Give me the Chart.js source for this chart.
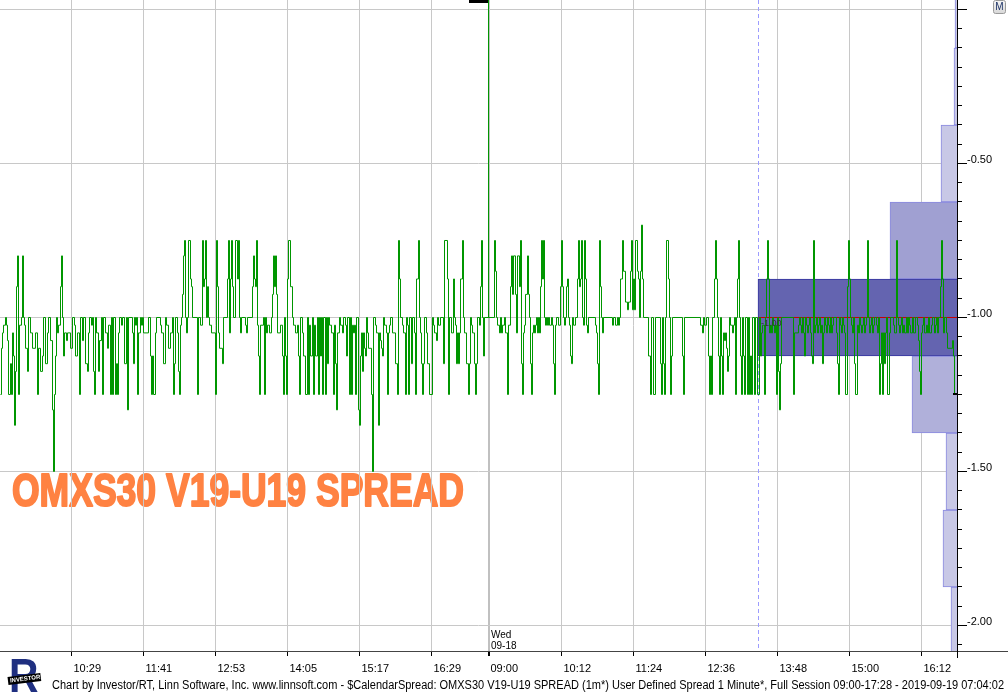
<!DOCTYPE html>
<html>
<head>
<meta charset="utf-8">
<title>OMXS30 V19-U19 SPREAD</title>
<script src="https://cdn.jsdelivr.net/npm/chart.js@4.4.1/dist/chart.umd.min.js"></script>
<style>
  html, body { margin: 0; padding: 0; background: #fff; }
  #spreadChart { display: block; }
</style>
</head>
<body>
<canvas id="spreadChart" width="1008" height="693"></canvas>
<script>
// Spread 1 minuto: cada ponto = [barra, fechamento] onde o valor muda (linha em degrau).
const session1Steps = [
  [0,-1.25],[1,-1.10],[2,-1.05],[3,-1.025],[5,-1.0],[6,-1.025],[7,-1.075],[8,-1.25],[10,-1.15],[11,-1.25],
  [12,-1.05],[13,-1.125],[14,-1.35],[15,-1.175],[16,-0.90],[17,-0.80],[18,-1.25],[19,-1.025],[21,-1.0],[22,-0.80],
  [23,-1.0],[24,-1.025],[25,-1.10],[27,-1.175],[28,-1.0],[30,-1.05],[32,-1.10],[35,-1.05],[37,-1.25],[38,-1.10],
  [40,-1.175],[42,-1.125],[43,-1.0],[45,-1.15],[47,-1.05],[48,-1.0],[50,-1.075],[52,-1.30],[53,-1.50],[54,-1.25],
  [55,-1.125],[56,-1.0],[57,-1.05],[58,-1.025],[60,-0.90],[61,-0.80],[62,-1.0],[63,-1.125],[64,-1.05],[66,-1.075],
  [67,-1.05],[70,-1.10],[72,-1.0],[74,-1.025],[75,-1.125],[77,-1.05],[79,-1.25],[80,-1.0],[82,-1.075],[83,-1.0],
  [85,-1.15],[87,-1.175],[88,-1.05],[89,-1.0],[91,-1.025],[92,-1.0],[93,-1.175],[94,-1.25],[95,-1.0],[96,-1.05],
  [98,-1.175],[99,-1.075],[101,-1.0],[102,-1.25],[103,-1.0],[105,-1.05],[107,-1.10],[108,-1.025],[110,-1.25],[111,-1.0],
  [112,-1.25],[113,-1.0],[115,-1.25],[116,-1.15],[117,-1.25],[118,-1.05],[119,-1.0],[121,-1.025],[122,-1.0],[124,-1.15],
  [126,-1.0],[127,-1.30],[128,-1.0],[132,-1.05],[133,-1.15],[134,-1.0],[135,-1.025],[136,-1.0],[137,-1.25],[138,-1.05],
  [140,-1.0],[141,-1.025],[142,-1.0],[143,-1.05],[148,-1.0],[150,-1.125],[151,-1.25],[152,-1.125],[153,-1.25],[155,-1.05],
  [156,-1.0],[160,-1.025],[161,-1.05],[163,-1.15],[165,-1.0],[166,-1.025],[168,-1.10],[170,-1.05],[172,-1.0],[173,-1.25],
  [174,-1.15],[175,-1.0],[177,-1.05],[178,-1.175],[179,-1.25],[180,-1.025],[181,-1.0],[182,-0.925],[183,-0.80],[184,-0.75],
  [185,-1.0],[186,-1.05],[187,-1.0],[188,-0.75],[190,-0.875],[191,-0.90],[192,-1.0],[197,-1.25],[198,-1.0],[200,-1.025],
  [202,-0.75],[203,-0.90],[204,-0.875],[205,-0.75],[206,-1.0],[207,-0.90],[208,-1.0],[209,-1.025],[211,-1.05],[215,-1.25],
  [216,-0.75],[217,-0.90],[218,-1.05],[219,-1.10],[222,-1.15],[223,-1.0],[227,-0.875],[228,-0.75],[229,-1.05],[230,-0.875],
  [231,-0.75],[232,-0.90],[233,-1.0],[235,-0.75],[237,-0.875],[238,-0.75],[239,-1.0],[240,-1.05],[241,-1.0],[245,-1.025],
  [246,-1.05],[247,-1.0],[252,-0.90],[253,-0.80],[254,-0.875],[255,-0.90],[256,-0.75],[257,-1.025],[258,-1.125],[259,-1.25],
  [260,-1.025],[263,-1.0],[264,-1.25],[265,-1.0],[266,-1.05],[267,-1.025],[269,-1.05],[271,-1.0],[272,-0.925],[273,-0.80],
  [274,-0.90],[275,-0.80],[276,-0.925],[277,-1.05],[280,-1.025],[282,-1.125],[283,-1.25],[284,-1.0],[285,-1.125],[286,-1.25],
  [287,-0.875],[288,-0.75],[290,-0.90],[292,-1.0],[293,-1.025],[295,-1.05],[297,-1.025],[298,-1.125],[299,-1.25],[300,-1.0],
  [302,-1.05],[303,-1.125],[305,-1.25],[307,-1.0],[308,-1.25],[309,-1.025],[310,-1.125],[312,-1.0],[313,-1.25],[314,-1.025],
  [315,-1.125],[317,-1.0],[318,-1.25],[319,-1.0],[320,-1.125],[321,-1.0],[322,-1.25],[323,-1.0],[325,-1.25],[326,-1.0],
  [327,-1.15],[328,-1.0],[329,-1.025],[331,-1.05],[333,-1.25],[334,-1.025],[335,-1.15],[336,-1.30],[337,-1.05],[339,-1.0],
  [340,-1.025],[342,-1.05],[343,-1.0],[345,-1.025],[346,-1.125],[347,-1.0],[349,-1.25],[350,-1.0],[351,-1.25],[352,-1.025],
  [353,-1.05],[354,-1.025],[355,-1.25],[356,-1.0],[358,-1.30],[359,-1.35],[360,-1.125],[361,-1.05],[362,-1.175],[363,-1.05],
  [364,-1.10],[365,-1.125],[366,-1.0],[367,-1.05],[368,-1.10],[371,-1.25],[372,-1.50],[373,-1.0],[375,-1.025],[376,-1.05],
  [378,-1.35],[379,-1.05],[380,-1.075],[381,-1.10],[382,-1.125],[383,-1.0],[384,-1.025],[386,-1.05],[387,-1.25],[388,-1.05],
  [389,-1.025],[390,-1.0],[392,-1.05],[395,-1.15],[397,-1.25],[398,-0.75],[399,-0.875],[400,-1.0],[402,-1.025],[403,-1.05],
  [405,-1.25],[406,-1.0],[407,-1.025],[408,-1.25],[409,-1.0],[411,-1.15],[412,-1.0],[414,-1.05],[415,-1.25],[416,-0.875],
  [418,-0.75],[419,-1.0],[420,-1.05],[421,-1.15],[422,-1.25],[423,-1.15],[424,-1.0],[426,-1.05],[427,-1.15],[429,-1.25],
  [432,-1.0],[433,-1.025],[434,-1.05],[436,-1.075],[437,-1.0],[438,-1.025],[440,-1.0],[443,-1.15],[444,-0.75],[447,-0.875],
  [448,-1.25],[449,-1.0],[451,-1.05],[453,-0.875],[454,-1.0],[455,-1.025],[456,-1.15],[457,-1.05],[458,-1.15],[459,-1.05],
  [460,-0.875],[462,-0.75],[463,-1.0],[464,-1.05],[466,-1.15],[468,-1.25],[469,-1.15],[470,-1.0],[471,-1.025],[472,-1.05],
  [474,-1.15],[475,-1.25],[476,-1.15],[477,-1.0],[479,-1.025],[480,-0.90],[481,-0.75],[482,-1.0],[483,-1.125],[484,-1.0]
];

const session2Steps = [
  [488,0.10],[488,-1.0],[494,-0.75],[495,-0.85],[496,-1.0],[497,-1.025],[499,-1.05],[500,-1.0],[501,-1.05],[502,-1.025],
  [504,-1.0],[505,-1.05],[507,-1.25],[508,-1.025],[510,-0.90],[511,-0.80],[512,-0.925],[513,-0.80],[515,-0.925],[516,-1.05],
  [517,-0.80],[519,-0.90],[520,-0.75],[521,-1.15],[522,-1.25],[523,-1.05],[524,-1.025],[525,-0.925],[527,-0.80],[528,-0.925],
  [529,-1.0],[530,-1.15],[531,-1.25],[532,-1.05],[533,-1.025],[534,-1.05],[535,-1.025],[536,-1.0],[537,-1.05],[538,-1.0],
  [539,-1.05],[540,-0.90],[541,-0.75],[542,-0.875],[543,-0.75],[544,-1.0],[545,-1.025],[546,-1.0],[547,-1.025],[548,-1.0],
  [549,-1.025],[551,-1.0],[552,-1.025],[553,-1.15],[554,-1.25],[555,-1.025],[556,-1.0],[558,-1.025],[560,-0.90],[561,-0.75],
  [562,-0.90],[563,-1.0],[564,-1.025],[565,-1.0],[566,-0.90],[567,-0.875],[568,-1.0],[569,-1.025],[570,-1.125],[571,-1.15],
  [572,-1.0],[573,-1.025],[575,-1.0],[577,-0.875],[578,-0.75],[579,-0.90],[580,-0.875],[581,-0.75],[582,-1.0],[583,-1.025],
  [584,-0.75],[585,-0.875],[586,-1.025],[587,-1.05],[588,-1.0],[595,-1.025],[596,-1.05],[597,-1.15],[598,-1.25],[599,-0.75],
  [600,-0.90],[601,-1.0],[602,-1.05],[603,-1.0],[612,-1.025],[613,-1.0],[615,-1.025],[617,-1.0],[618,-1.025],[619,-1.0],
  [620,-0.875],[622,-0.75],[623,-0.85],[625,-0.95],[627,-0.975],[628,-0.95],[630,-0.85],[631,-0.75],[632,-0.975],[633,-0.875],
  [634,-0.975],[635,-0.75],[637,-0.85],[638,-0.875],[639,-1.0],[640,-0.85],[641,-0.70],[642,-0.875],[643,-1.0],[648,-1.125],
  [650,-1.25],[651,-1.0],[653,-1.25],[655,-1.0],[660,-1.15],[661,-1.25],[662,-1.0],[663,-1.15],[664,-1.25],[665,-1.0],
  [666,-0.75],[668,-0.875],[669,-1.0],[670,-1.25],[671,-1.125],[672,-1.0],[682,-1.125],[683,-1.25],[684,-1.0],[700,-1.025],
  [702,-1.05],[703,-1.0],[704,-1.025],[706,-1.0],[708,-1.125],[709,-1.25],[710,-1.125],[711,-1.25],[712,-1.0],[714,-0.875],
  [715,-0.75],[716,-0.875],[717,-1.0],[718,-1.125],[719,-1.25],[720,-1.0],[721,-1.125],[722,-1.25],[723,-1.05],[724,-1.075],
  [725,-1.05],[726,-1.10],[727,-1.175],[728,-1.125],[729,-1.0],[730,-1.025],[732,-1.05],[733,-1.025],[734,-1.0],[735,-1.25],
  [736,-1.0],[737,-0.875],[738,-0.75],[739,-1.0],[740,-1.125],[741,-1.25],[742,-1.0],[743,-1.125],[744,-1.25],[745,-1.0],
  [747,-1.25],[748,-1.0],[749,-1.25],[750,-1.125],[751,-1.25],[752,-1.0],[754,-1.25],[755,-1.0],[757,-1.25],[759,-1.0],
  [760,-1.125],[761,-1.05],[762,-1.025],[764,-1.25],[765,-1.0],[766,-0.875],[767,-0.75],[768,-0.875],[769,-1.05],[770,-1.025],
  [771,-1.05],[772,-1.0],[773,-1.025],[774,-1.05],[775,-1.025],[776,-1.25],[777,-1.0],[778,-1.175],[779,-1.30],[780,-1.15],
  [781,-1.0],[793,-1.25],[794,-1.05],[798,-1.025],[799,-1.0],[800,-1.025],[801,-1.05],[802,-1.0],[803,-1.05],[804,-1.125],
  [805,-1.0],[806,-1.025],[807,-1.05],[808,-1.025],[809,-1.0],[810,-1.05],[811,-1.125],[812,-1.15],[813,-0.75],[814,-1.05],
  [815,-1.025],[816,-1.0],[817,-1.05],[818,-1.025],[819,-1.0],[820,-1.05],[821,-1.025],[822,-1.15],[823,-1.05],[824,-1.0],
  [825,-1.025],[826,-1.05],[827,-1.0],[828,-1.025],[829,-1.05],[830,-1.0],[831,-1.05],[832,-1.025],[833,-1.0],[836,-1.05],
  [837,-1.15],[838,-1.25],[839,-1.0],[840,-1.025],[841,-1.05],[842,-1.0],[843,-1.025],[844,-1.05],[845,-1.25],[847,-0.90],
  [848,-0.75],[849,-0.875],[850,-1.0],[851,-1.025],[852,-1.05],[853,-1.0],[854,-1.15],[855,-1.25],[857,-1.025],[858,-1.05],
  [859,-1.0],[860,-1.025],[861,-1.05],[862,-1.025],[863,-1.0],[864,-1.05],[865,-1.025],[866,-1.0],[867,-0.75],[868,-1.0],
  [869,-1.05],[870,-1.025],[871,-1.0],[872,-1.05],[873,-1.025],[874,-1.0],[876,-1.025],[877,-1.05],[878,-1.0],[879,-1.25],
  [880,-1.15],[881,-1.05],[882,-1.25],[883,-1.05],[884,-1.15],[885,-1.05],[886,-1.0],[887,-1.25],[889,-1.05],[890,-1.0],
  [893,-1.025],[894,-1.05],[896,-0.75],[897,-1.0],[898,-1.025],[899,-1.05],[900,-1.025],[901,-1.0],[902,-1.05],[903,-1.025],
  [904,-1.05],[906,-1.0],[907,-1.05],[908,-1.0],[909,-1.025],[910,-1.05],[912,-1.0],[913,-1.05],[915,-1.0],[917,-1.025],
  [918,-1.075],[919,-1.175],[920,-1.25],[921,-1.05],[922,-1.025],[923,-1.0],[924,-1.05],[926,-1.025],[927,-1.05],[928,-1.0],
  [929,-1.05],[931,-1.025],[932,-1.0],[934,-1.05],[935,-1.025],[936,-1.0],[937,-1.05],[938,-1.0],[940,-0.90],[941,-0.75],
  [942,-0.875],[943,-1.05],[944,-1.0],[946,-1.05],[947,-1.10],[952,-1.075],[953,-1.125],[954,-1.25],[956,-1.25]
];

// Eixo de tempo (barra de 1 min -> rotulo)
const timeTickBars = [71, 143, 215, 287, 359, 431, 488, 561, 633, 705, 777, 849, 921];
const timeTickLabels = ['10:29', '11:41', '12:53', '14:05', '15:17', '16:29', '09:00', '10:12', '11:24', '12:36', '13:48', '15:00', '16:12'];
const sessionBreakBar = 488;
const sessionBreakLabel = ['Wed', '09-18'];

// Perfil de volume (faixas de 0.25) iniciado na barra profileStartBar
const profileStartBar = 758;
const profilePrice = [0, -0.25, -0.5, -0.75, -1.0, -1.25, -1.5, -1.75, -2.0];
const profileVolume = [2, 3, 16, 67, 199, 45, 11, 14, 6];
const profileBinSize = 0.25;

const priceMinorStep = 0.0625;
const priceMajorStep = 0.5;

const titleText = 'OMXS30 V19-U19 SPREAD';
const footerText = 'Chart by Investor/RT, Linn Software, Inc. www.linnsoft.com - $CalendarSpread: OMXS30 V19-U19 SPREAD (1m*) User Defined Spread 1 Minute*, Full Session 09:00-17:28 - 2019-09-19 07:04:02';

// limites de visualizacao
const barMin = -0.5, barMax = 956.5;
const priceTop = 0.0308, priceBottom = -2.0828;
const volumeFullWidth = 957;

const GREEN = '#009600';
const FONT = '"Liberation Sans", Arial, sans-serif';

const isMajor = (v) => Math.abs(v / priceMajorStep - Math.round(v / priceMajorStep)) < 1e-6;
const maxVolume = Math.max(...profileVolume);
const pocPrice = profilePrice[profileVolume.indexOf(maxVolume)];
const priceSteps = session1Steps.concat(session2Steps);
const lastClose = priceSteps[priceSteps.length - 1][1];

const profileFill = profileVolume.map((v) => (v === maxVolume ? '#6464b0' : v > 60 ? '#a0a0d2' : v > 30 ? '#b0b0da' : '#c8c8e6'));
const profileBorder = profileVolume.map((v) => (v === maxVolume ? '#3434a0' : '#8a8ae0'));

const decorPlugin = {
  id: 'irtDecor',
  beforeDraw(chart) {
    const { ctx, width, height } = chart;
    ctx.save();
    ctx.fillStyle = '#ffffff';
    ctx.fillRect(0, 0, width, height);
    // titulo laranja (fica por baixo da grade)
    ctx.font = 'bold 47px ' + FONT;
    const w = ctx.measureText(titleText).width;
    ctx.translate(12, 506);
    ctx.scale(452 / w, 1);
    ctx.fillStyle = '#ff8242';
    ctx.strokeStyle = '#ff8242';
    ctx.lineWidth = 2;
    ctx.lineJoin = 'round';
    ctx.textBaseline = 'alphabetic';
    ctx.strokeText(titleText, 0, 0);
    ctx.fillText(titleText, 0, 0);
    ctx.restore();
  },
  beforeDatasetsDraw(chart) {
    const { ctx, chartArea, scales } = chart;
    const x = Math.floor(scales.x.getPixelForValue(profileStartBar)) + 0.5;
    ctx.save();
    ctx.strokeStyle = '#9c9cff';
    ctx.lineWidth = 1;
    ctx.setLineDash([4, 3]);
    ctx.beginPath();
    ctx.moveTo(x, chartArea.top);
    ctx.lineTo(x, chartArea.bottom);
    ctx.stroke();
    ctx.restore();
  },
  afterDraw(chart) {
    const { ctx, chartArea, scales, width } = chart;
    const sx = scales.x, sy = scales.y;
    ctx.save();
    // eixo inferior ate a borda direita e prolongamento do eixo y
    ctx.strokeStyle = '#444';
    ctx.lineWidth = 1;
    ctx.beginPath();
    ctx.moveTo(chartArea.right, chartArea.bottom + 0.5);
    ctx.lineTo(width, chartArea.bottom + 0.5);
    ctx.stroke();
    ctx.strokeStyle = '#000';
    ctx.beginPath();
    ctx.moveTo(chartArea.right + 0.5, chartArea.bottom);
    ctx.lineTo(chartArea.right + 0.5, chartArea.bottom + 7);
    ctx.stroke();
    // ticks maiores do eixo de preco
    for (let v = 0; v >= priceBottom; v -= priceMajorStep) {
      const y = Math.round(sy.getPixelForValue(v) - 0.5) + 0.5;
      ctx.beginPath();
      ctx.moveTo(chartArea.right, y);
      ctx.lineTo(chartArea.right + 10, y);
      ctx.stroke();
    }
    // marcador do topo cortado e do ultimo preco
    const bx = Math.floor(sx.getPixelForValue(sessionBreakBar));
    ctx.fillStyle = '#000';
    ctx.fillRect(bx - 19, 0, 19, 3);
    const ly = Math.round(sy.getPixelForValue(lastClose));
    ctx.fillRect(chartArea.right - 4, ly - 1, 5, 2);
    // rotulo POC
    ctx.font = '9px ' + FONT;
    ctx.fillStyle = '#333';
    ctx.textBaseline = 'middle';
    ctx.fillText(pocPrice.toFixed(2), Math.floor(sx.getPixelForValue(profileStartBar)) + 3, sy.getPixelForValue(pocPrice) + 6);
    // dia da sessao
    ctx.font = '10px ' + FONT;
    ctx.fillStyle = '#000';
    ctx.textBaseline = 'alphabetic';
    ctx.fillText(sessionBreakLabel[0], bx + 3, 638);
    ctx.fillText(sessionBreakLabel[1], bx + 3, 649);
    // botao M
    const g = ctx.createLinearGradient(0, 0, 0, 14);
    g.addColorStop(0, '#f6f6f6');
    g.addColorStop(1, '#d6d6d6');
    ctx.fillStyle = g;
    ctx.strokeStyle = '#9a9a9a';
    ctx.beginPath();
    ctx.roundRect(993.5, 0.5, 12, 13, 2);
    ctx.fill();
    ctx.stroke();
    ctx.fillStyle = '#1c3266';
    ctx.font = '10px ' + FONT;
    ctx.textAlign = 'center';
    ctx.textBaseline = 'middle';
    ctx.fillText('M', 999.5, 7.5);
    // logo Investor/RT
    ctx.textAlign = 'left';
    ctx.textBaseline = 'alphabetic';
    ctx.font = 'bold 48px ' + FONT;
    ctx.fillStyle = '#1f2f80';
    ctx.save();
    ctx.translate(9, 692);
    ctx.scale(0.85, 1);
    ctx.fillText('R', 0, 0);
    ctx.restore();
    ctx.save();
    ctx.translate(8, 681);
    ctx.rotate(-0.12);
    ctx.fillStyle = '#000';
    ctx.fillRect(0, -4, 33, 8);
    ctx.fillStyle = '#fff';
    ctx.font = 'bold 6px ' + FONT;
    ctx.textBaseline = 'middle';
    ctx.fillText('INVESTOR', 2, 0);
    ctx.restore();
    // rodape
    ctx.font = '12px ' + FONT;
    ctx.fillStyle = '#000';
    const fw = ctx.measureText(footerText).width;
    ctx.translate(52, 689);
    ctx.scale(952 / fw, 1);
    ctx.fillText(footerText, 0, 0);
    ctx.restore();
  }
};

new Chart(document.getElementById('spreadChart'), {
  type: 'line',
  data: {
    datasets: [
      {
        label: 'Spread',
        data: priceSteps.map(([bar, close]) => ({ x: bar, y: close })),
        stepped: true,
        borderColor: GREEN,
        borderWidth: 1,
        pointRadius: 0,
        fill: false,
        order: 1,
      },
      {
        label: 'POC',
        data: [{ x: profileStartBar, y: pocPrice }, { x: barMax, y: pocPrice }],
        borderColor: '#c80000',
        borderWidth: 1,
        pointRadius: 0,
        fill: false,
        order: 2,
      },
      {
        type: 'bar',
        label: 'Volume profile',
        indexAxis: 'y',
        xAxisID: 'vol',
        yAxisID: 'bin',
        grouped: false,
        data: profilePrice.map((p, i) => ({ x: profileVolume[i], y: p })),
        backgroundColor: profileFill,
        borderColor: profileBorder,
        borderWidth: 1,
        barPercentage: 1,
        categoryPercentage: 1,
        order: 3,
      },
    ],
  },
  options: {
    responsive: false,
    devicePixelRatio: 1,
    animation: false,
    events: [],
    layout: { padding: { left: 0, right: 0, top: 0, bottom: 17 } },
    plugins: { legend: { display: false }, tooltip: { enabled: false } },
    scales: {
      x: {
        type: 'linear',
        position: 'bottom',
        min: barMin,
        max: barMax,
        afterBuildTicks: (s) => { s.ticks = timeTickBars.map((v) => ({ value: v })); },
        afterFit: (s) => { s.height = 25; s.paddingLeft = 0; s.paddingRight = 0; },
        ticks: {
          autoSkip: false, maxRotation: 0, minRotation: 0, align: 'start', padding: 6, labelOffset: 2,
          color: '#000', font: { family: FONT, size: 11 },
          callback: (v, i) => timeTickLabels[i],
        },
        grid: {
          color: (c) => (c.tick && c.tick.value === sessionBreakBar ? '#c0c0c0' : '#c8c8c8'),
          lineWidth: (c) => (c.tick && c.tick.value === sessionBreakBar ? 2 : 1),
          tickColor: '#000', tickLength: 5, offset: false,
        },
        border: { color: '#444' },
      },
      y: {
        type: 'linear',
        position: 'right',
        offset: false,
        min: priceBottom,
        max: priceTop,
        afterFit: (s) => { s.width = 51; s.paddingTop = 0; s.paddingBottom = 0; },
        ticks: {
          stepSize: priceMinorStep, includeBounds: false, autoSkip: false, padding: 5, labelOffset: -4,
          color: '#000', font: { family: FONT, size: 11 },
          callback: (v) => (isMajor(v) && v < -0.01 ? v.toFixed(2) : ''),
        },
        grid: {
          offset: false,
          color: (c) => (c.tick && isMajor(c.tick.value) ? '#c8c8c8' : 'rgba(0,0,0,0)'),
          tickColor: '#000', tickLength: 5,
        },
        border: { color: '#000' },
      },
      // eixos ocultos do perfil de volume (mesma escala de preco, faixas de 0.25)
      bin: {
        type: 'linear',
        axis: 'y',
        display: false,
        offset: false,
        min: priceBottom,
        max: priceTop,
        ticks: { stepSize: profileBinSize, includeBounds: false },
        grid: { offset: false },
      },
      vol: {
        type: 'linear',
        axis: 'x',
        display: false,
        reverse: true,
        min: 0,
        max: volumeFullWidth,
        offset: false,
        grid: { offset: false },
      },
    },
  },
  plugins: [decorPlugin],
});
</script>
</body>
</html>
